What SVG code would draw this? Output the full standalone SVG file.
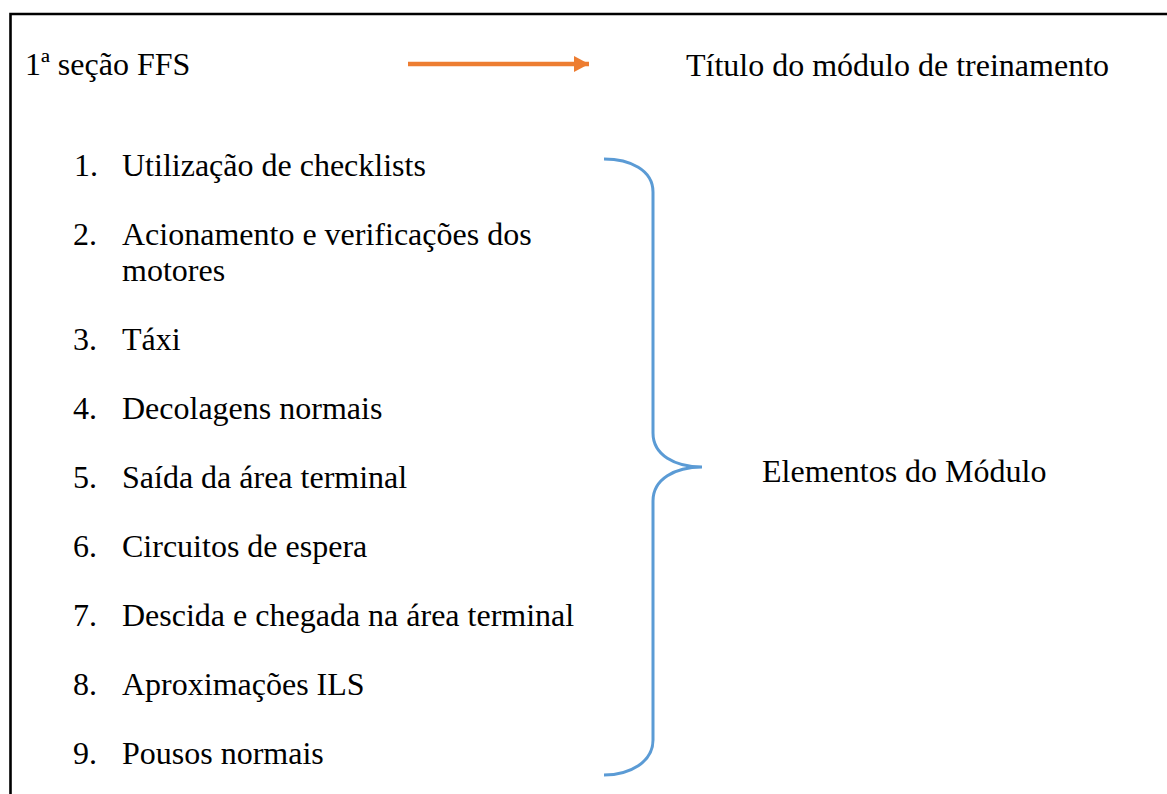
<svg xmlns="http://www.w3.org/2000/svg" width="1167" height="794" viewBox="0 0 1167 794">
<style>
text{font-size:32px;fill:#000}
.brace{fill:none;stroke:#5B9BD5;stroke-width:3}
.arrow{stroke:#ED7D31;stroke-width:4.3;fill:none}
</style>
<defs>
<marker id="ah" markerUnits="userSpaceOnUse" markerWidth="16" markerHeight="16" refX="15" refY="8" orient="auto"><polygon points="0,0 15,8 0,16" fill="#ED7D31"/></marker>
</defs>
<rect width="1167" height="794" fill="#fff"/>
<path d="M10.5 800 V14 H1175" fill="none" stroke="#000" stroke-width="2.6"/>
<g font-family="Liberation Serif, DejaVu Serif, serif">
<g id="section"><text x="25" y="75">1ª seção FFS</text></g>
<g id="title"><text x="686" y="76">Título do módulo de treinamento</text></g>
<g id="items">
<text x="74" y="176">1.</text><text x="122" y="176">Utilização de checklists</text>
<text x="73" y="245">2.</text><text x="122" y="245">Acionamento e verificações dos</text>
<text x="122" y="280.5">motores</text>
<text x="73" y="349.5">3.</text><text x="122" y="349.5">Táxi</text>
<text x="73" y="418.5">4.</text><text x="122" y="418.5">Decolagens normais</text>
<text x="73" y="487.5">5.</text><text x="122" y="487.5">Saída da área terminal</text>
<text x="73" y="556.5">6.</text><text x="122" y="556.5">Circuitos de espera</text>
<text x="73" y="625.5">7.</text><text x="122" y="625.5">Descida e chegada na área terminal</text>
<text x="73" y="694.5">8.</text><text x="122" y="694.5">Aproximações ILS</text>
<text x="73" y="764">9.</text><text x="122" y="764">Pousos normais</text>
</g>
<g id="elements"><text x="762" y="482">Elementos do Módulo</text></g>
</g>
<g id="connectors">
<line class="arrow" x1="408" y1="64" x2="589" y2="64" marker-end="url(#ah)"/>
<path class="brace" d="M604 159 C630 159 653 170 653 192 V433 C653 455 675 467 702 467 C675 467 653 479 653 501 V740 C653 762 630 775 604 775"/>
</g>
</svg>
